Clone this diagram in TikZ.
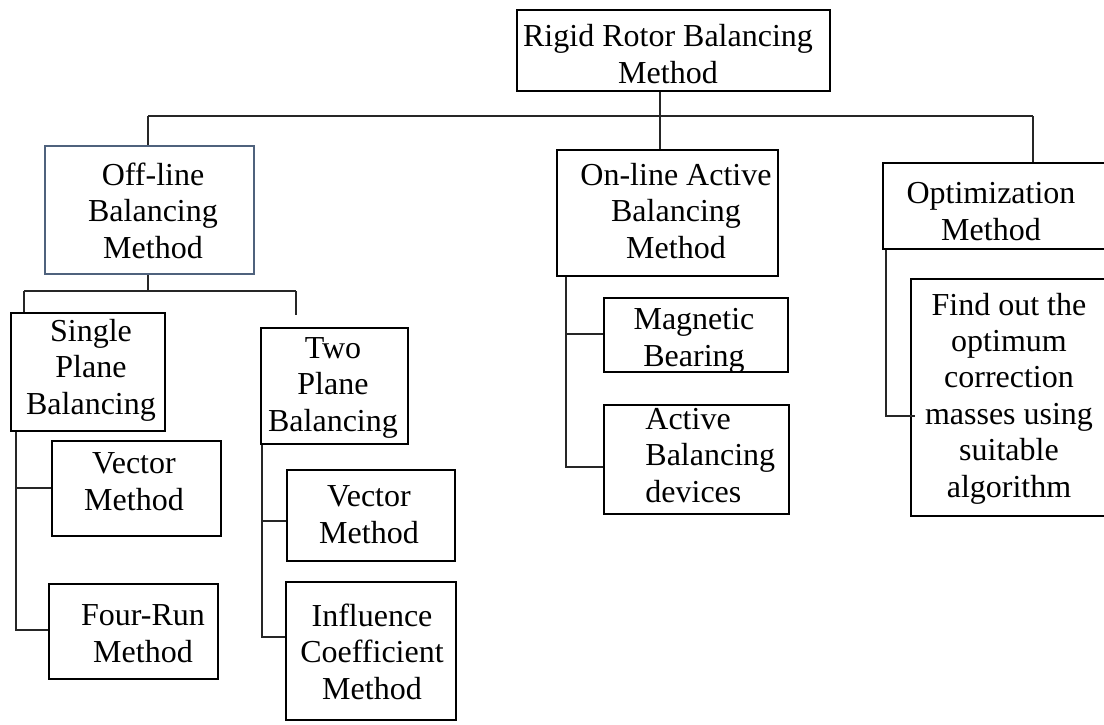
\documentclass[tikz,border=0pt]{standalone}
\usepackage{fontspec}
\setmainfont{Liberation Serif}
\usetikzlibrary{fit,calc}
\definecolor{slate}{RGB}{79,98,125}
\begin{document}
\begin{tikzpicture}[x=0.5pt,y=-0.5pt,
  box/.style={draw=black, line width=1.2pt, inner sep=0pt},
  % multi-line labels are placed by the baseline of their last line
  lbl/.style={font=\fontsize{16}{18.2}\selectfont, align=center, anchor=base, inner sep=0pt},
  link/.style={line width=0.55pt, draw=black!85}]
\useasboundingbox (0,0) rectangle (1104,724);
\clip (0,0) rectangle (1104,724);

% boxes
\node[box, fit={(517,10)(830,91)}] (rigid) {};
\node[box, draw=slate, fit={(45,146)(254,274)}] (offline) {};
\node[box, fit={(557,150)(778,276)}] (online) {};
\node[box, fit={(883,163)(1110,249)}] (opt) {};
\node[box, fit={(11,313)(165,431)}] (single) {};
\node[box, fit={(261,328)(408,444)}] (two) {};
\node[box, fit={(52,441)(221,536)}] (vec1) {};
\node[box, fit={(49,584)(218,679)}] (four) {};
\node[box, fit={(287,470)(455,561)}] (vec2) {};
\node[box, fit={(286,582)(456,720)}] (infl) {};
\node[box, fit={(604,298)(788,372)}] (magn) {};
\node[box, fit={(604,405)(789,514)}] (active) {};
\node[box, fit={(911,279)(1110,516)}] (find) {};

% labels
\node[lbl] (rigid-t) at (668,83) {Rigid Rotor Balancing\\Method};
\node[lbl] (offline-t) at (153,258) {Off-line\\Balancing\\Method};
\node[lbl] (online-t) at (676,258) {On-line Active\\Balancing\\Method};
\node[lbl] (opt-t) at (991,240) {Optimization\\Method};
\node[lbl] (single-t) at (91,414) {Single\\Plane\\Balancing};
\node[lbl] (two-t) at (333,431) {Two\\Plane\\Balancing};
\node[lbl] (vec1-t) at (134,510) {Vector\\Method};
\node[lbl] (four-t) at (143,662) {Four-Run\\Method};
\node[lbl] (vec2-t) at (369,543) {Vector\\Method};
\node[lbl] (infl-t) at (372,699) {Influence\\Coefficient\\Method};
\node[lbl] (magn-t) at (694,366) {Magnetic\\Bearing};
\node[lbl, align=left, anchor=base west] (active-t) at (645,502) {Active\\Balancing\\devices};
\node[lbl] (find-t) at (1009,497) {Find out the\\optimum\\correction\\masses using\\suitable\\algorithm};

% top level connectors
\coordinate (busL) at (148,116);
\coordinate (busR) at (1033,116);
\coordinate (trunk) at (660,116);
\draw[link] (busL) -- (busR);
\draw[link] (busL) -- (busL |- offline.north);
\draw[link] (busR) -- (busR |- opt.north);
\draw[link] (trunk |- rigid.south) -- (trunk |- online.north);

% off-line branch
\coordinate (offbus) at (148,291);
\coordinate (offL) at (24,291);
\coordinate (offR) at (296,291);
\coordinate (offRend) at (296,315);
\draw[link] (offbus |- offline.south) -- (offbus);
\draw[link] (offL) -- (offR);
\draw[link] (offL) -- (offL |- single.north);
\draw[link] (offR) -- (offRend);

% single plane children
\coordinate (sA) at (16,488);
\coordinate (sB) at (16,630);
\draw[link] (sA |- single.south) -- (sB) -- (sB -| four.west);
\draw[link] (sA) -- (sA -| vec1.west);

% two plane children
\coordinate (tA) at (262,521);
\coordinate (tB) at (262,637);
\draw[link] (tA |- two.south) -- (tB) -- (tB -| infl.west);
\draw[link] (tA) -- (tA -| vec2.west);

% on-line children
\coordinate (oA) at (566,334);
\coordinate (oB) at (566,467);
\draw[link] (oA |- online.south) -- (oB) -- (oB -| active.west);
\draw[link] (oA) -- (oA -| magn.west);

% optimization child
\coordinate (pA) at (886,416);
\draw[link] (pA |- opt.south) -- (pA) -- ($(pA -| find.west)+(5,0)$);
\end{tikzpicture}
\end{document}
